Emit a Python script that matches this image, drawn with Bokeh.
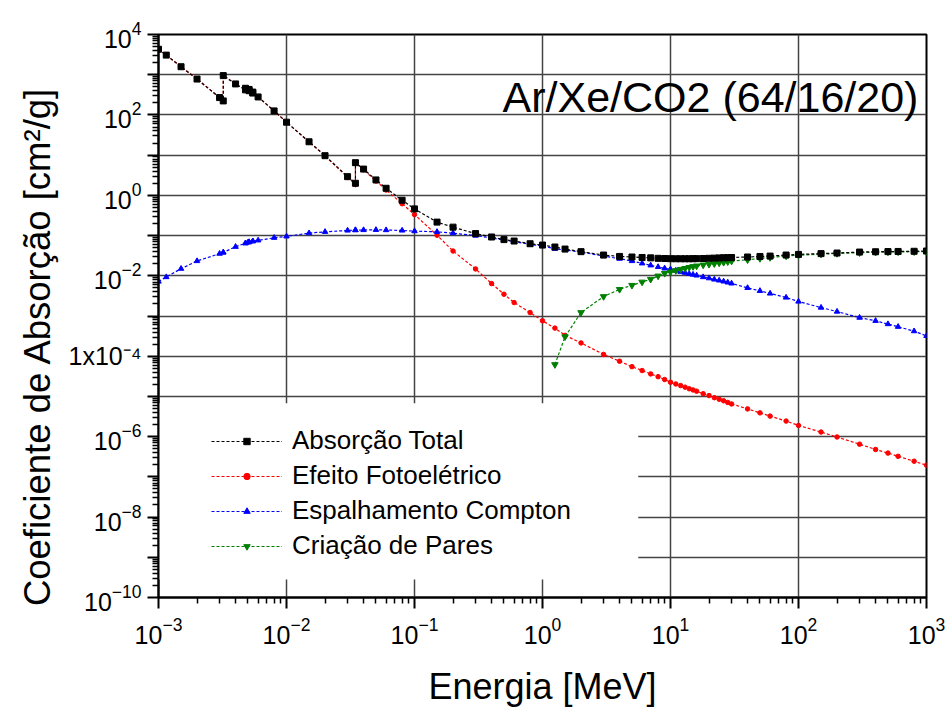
from bokeh.plotting import figure
from bokeh.models import (FixedTicker, Label, BoxAnnotation, Legend, LegendItem,
                          LogTickFormatter)
from bokeh.embed import file_html
from bokeh.resources import INLINE

# ---------------- data (energy in MeV, coefficients in cm^2/g) ----------------
energy = [1.0e-3, 1.15e-3, 1.5e-3, 2.0e-3, 3.0e-3, 3.206e-3, 3.206e-3, 4.0e-3,
          4.782e-3, 4.782e-3, 5.0e-3, 5.104e-3, 5.104e-3, 5.453e-3, 5.453e-3,
          6.0e-3, 8.0e-3, 1.0e-2, 1.5e-2, 2.0e-2, 3.0e-2, 3.456e-2, 3.456e-2,
          4.0e-2, 5.0e-2, 6.0e-2, 8.0e-2, 0.1, 0.15, 0.2, 0.3, 0.4, 0.5, 0.6,
          0.8, 1.0, 1.25, 1.5, 2.0, 3.0, 4.0, 5.0, 6.0, 7.0, 8.0, 9.0, 10, 11,
          12, 13, 14, 15, 16, 18, 20, 22, 24, 26, 28, 30, 40, 50, 60, 80, 100,
          150, 200, 300, 400, 500, 600, 800, 1000]

total = [4.3e3, 3.07e3, 1.58e3, 7.8e2, 2.7e2, 2.23e2, 9.5e2, 5.9e2,
         4.2e2, 4.6e2, 4.3e2, 4.0e2, 4.3e2, 3.5e2, 3.7e2,
         2.8e2, 1.26e2, 66, 21.5, 9.7, 2.92, 2.0, 6.5,
         4.5, 2.42, 1.50, 0.757, 0.461, 0.216, 0.162, 0.112, 0.0923, 0.0794, 0.0731,
         0.0627, 0.0581, 0.0519, 0.0462, 0.0398, 0.0328, 0.0303, 0.0293, 0.0285, 0.0279,
         0.0272, 0.0269, 0.0266, 0.0265, 0.0265, 0.0265, 0.0265, 0.0266, 0.0267,
         0.0269, 0.0272, 0.0275, 0.0278, 0.0281, 0.0282, 0.0285, 0.0293, 0.0302,
         0.0309, 0.0328, 0.0340, 0.0356, 0.0368, 0.0389, 0.0396, 0.0400, 0.0403,
         0.0407, 0.0413]

photo = [4.3e3, 3.07e3, 1.58e3, 7.8e2, 2.7e2, 2.23e2, 9.5e2, 5.9e2,
         4.2e2, 4.6e2, 4.3e2, 4.0e2, 4.3e2, 3.5e2, 3.7e2,
         2.8e2, 1.26e2, 66, 21.4, 9.6, 2.8, 1.85, 6.35,
         4.35, 2.28, 1.36, 0.62, 0.333, 0.102, 0.0413, 0.0148, 6.4e-3, 3.48e-3, 2.16e-3,
         1.22e-3, 7.6e-4, 5.0e-4, 3.3e-4, 2.14e-4, 1.11e-4, 7.5e-5, 5.5e-5, 4.4e-5, 3.63e-5,
         3.1e-5, 2.63e-5, 2.25e-5, 2.04e-5, 1.86e-5, 1.70e-5, 1.55e-5, 1.45e-5, 1.35e-5,
         1.17e-5, 1.05e-5, 9.3e-6, 8.5e-6, 7.8e-6, 7.1e-6, 6.5e-6, 4.9e-6, 3.9e-6,
         3.24e-6, 2.44e-6, 1.9e-6, 1.3e-6, 9.8e-7, 6.5e-7, 4.8e-7, 3.9e-7, 3.24e-7,
         2.45e-7, 1.95e-7]

compton = [7.2e-3, 9.3e-3, 1.5e-2, 2.33e-2, 3.55e-2, 3.8e-2, 3.8e-2, 5.27e-2,
           6.46e-2, 6.46e-2, 6.76e-2, 6.9e-2, 6.9e-2, 7.25e-2, 7.25e-2,
           7.6e-2, 8.83e-2, 9.55e-2, 0.115, 0.124, 0.134, 0.137, 0.137,
           0.1375, 0.139, 0.137, 0.134, 0.129, 0.124, 0.115, 0.100, 0.087, 0.0776, 0.0708,
           0.0603, 0.055, 0.0471, 0.0437, 0.0389, 0.0309, 0.0266, 0.0233, 0.0204, 0.0182,
           0.0166, 0.0153, 0.0145, 0.0135, 0.0126, 0.0119, 0.0112, 0.0107, 0.0102,
           0.0093, 0.0087, 0.0081, 0.00767, 0.00724, 0.00684, 0.00646, 0.0050, 0.00422,
           0.00363, 0.00288, 0.00229, 0.00162, 0.00129, 9.1e-4, 7.6e-4, 6.3e-4, 5.4e-4,
           4.2e-4, 3.2e-4]

pair_energy = [1.25, 1.5, 2.0, 3.0, 4.0, 5.0, 6.0, 7.0, 8.0, 9.0, 10, 11, 12, 13, 14,
               15, 16, 18, 20, 22, 24, 26, 28, 30, 40, 50, 60, 80, 100, 150, 200,
               300, 400, 500, 600, 800, 1000]
pair = [6.2e-5, 3.05e-4, 1.22e-3, 3.05e-3, 4.6e-3, 5.8e-3, 7.0e-3, 8.2e-3, 9.9e-3,
        1.15e-2, 1.25e-2, 1.35e-2, 1.45e-2, 1.53e-2, 1.62e-2, 1.70e-2, 1.76e-2,
        1.86e-2, 1.93e-2, 2.0e-2, 2.09e-2, 2.16e-2, 2.24e-2, 2.32e-2, 2.5e-2, 2.7e-2,
        2.85e-2, 3.1e-2, 3.25e-2, 3.45e-2, 3.58e-2, 3.75e-2, 3.84e-2, 3.9e-2, 3.93e-2,
        3.97e-2, 4.0e-2]

labels = ["Absorção Total", "Efeito Fotoelétrico", "Espalhamento Compton", "Criação de Pares"]
title_text = "Ar/Xe/CO2 (64/16/20)"

x_decades = [10.0 ** k for k in range(-3, 4)]
y_decades = [10.0 ** k for k in range(-10, 5)]
y_labelled = [10.0 ** k for k in range(-10, 5, 2)]

FONT = "Liberation Sans"

p = figure(width=945, height=709, x_axis_type="log", y_axis_type="log",
           x_range=(1e-3, 1e3), y_range=(1e-10, 1e4),
           output_backend="svg", toolbar_location=None,
           min_border_left=158, min_border_right=19, min_border_top=34,
           min_border_bottom=108)
p.background_fill_color = "white"
p.border_fill_color = "white"
p.outline_line_color = "black"
p.outline_line_width = 2

def minors(lo, hi):
    out = []
    for k in range(lo, hi):
        for m in range(2, 10):
            out.append(m * 10.0 ** k)
    return out

p.xaxis.ticker = FixedTicker(ticks=x_decades, minor_ticks=minors(-3, 3))
p.yaxis.ticker = FixedTicker(ticks=y_decades, minor_ticks=minors(-10, 4))
p.xgrid.ticker = FixedTicker(ticks=x_decades)
p.ygrid.ticker = FixedTicker(ticks=y_decades)
for g in (p.xgrid, p.ygrid):
    g.grid_line_color = "#444444"
    g.grid_line_width = 1.5
    g.grid_line_alpha = 1.0

p.xaxis.formatter = LogTickFormatter()
p.yaxis.formatter = LogTickFormatter()
overrides = {}
for t in y_decades:
    if t not in y_labelled:
        overrides[t] = ""
overrides[1e-4] = "1x10⁻⁴"
p.yaxis.major_label_overrides = overrides

for ax in (p.xaxis, p.yaxis):
    ax.axis_line_width = 2
    ax.axis_line_color = "black"
    ax.major_tick_line_width = 2
    ax.minor_tick_line_width = 1.5
    ax.major_tick_in = 0
    ax.major_tick_out = 11
    ax.minor_tick_in = 0
    ax.minor_tick_out = 6
    ax.major_label_text_font = FONT
    ax.major_label_text_font_size = "25px"
    ax.major_label_text_color = "black"
    ax.axis_label_text_font = FONT
    ax.axis_label_text_font_style = "normal"
    ax.axis_label_text_color = "black"

p.xaxis.axis_label_text_font_size = "36px"
p.yaxis.axis_label_text_font_size = "36.5px"
p.xaxis.axis_label = "Energia [MeV]"
# trailing no-break spaces shift the centred label towards the bottom, as in the original
p.yaxis.axis_label = "Coeficiente de Absorção [cm²/g]" + "\u00a0" * 6
p.xaxis.major_label_standoff = 8
p.yaxis.major_label_standoff = 6
p.xaxis.axis_label_standoff = 19
p.yaxis.axis_label_standoff = 8

# white area behind the legend (hides the grid there)
p.add_layout(BoxAnnotation(left=1e-3, right=5.6, bottom=10 ** -9.55, top=10 ** -5.17,
                           fill_color="white", fill_alpha=1.0, line_alpha=0,
                           level="underlay"))

DASH = "3 2"
series = [
    (energy, photo, "red", "circle", 4.5),
    (energy, compton, "blue", "triangle", 5.5),
    (pair_energy, pair, "green", "inverted_triangle", 6.5),
    (energy, total, "black", "square", 6),
]
rends = {}
for (xs, ys, col, mk, sz) in series:
    lr = p.line(xs, ys, line_color=col, line_dash=DASH, line_width=1.2)
    sr = p.scatter(xs, ys, marker=mk, size=sz, color=col)
    rends[col] = [lr, sr]

items = [LegendItem(label=labels[0], renderers=rends["black"]),
         LegendItem(label=labels[1], renderers=rends["red"]),
         LegendItem(label=labels[2], renderers=rends["blue"]),
         LegendItem(label=labels[3], renderers=rends["green"])]
legend = Legend(items=items, location=(53, 36), padding=0, margin=0,
                glyph_width=71, glyph_height=16, label_height=30, spacing=4,
                label_standoff=10, label_text_font=FONT, label_text_font_size="26px",
                label_text_color="black", background_fill_alpha=0,
                border_line_alpha=0)
p.add_layout(legend)

p.add_layout(Label(x=865, y=282, text=title_text, text_align="right",
                   text_baseline="alphabetic", text_font=FONT,
                   text_font_size="43px", text_color="black"))

open("out.html", "w").write(file_html(p, INLINE))
